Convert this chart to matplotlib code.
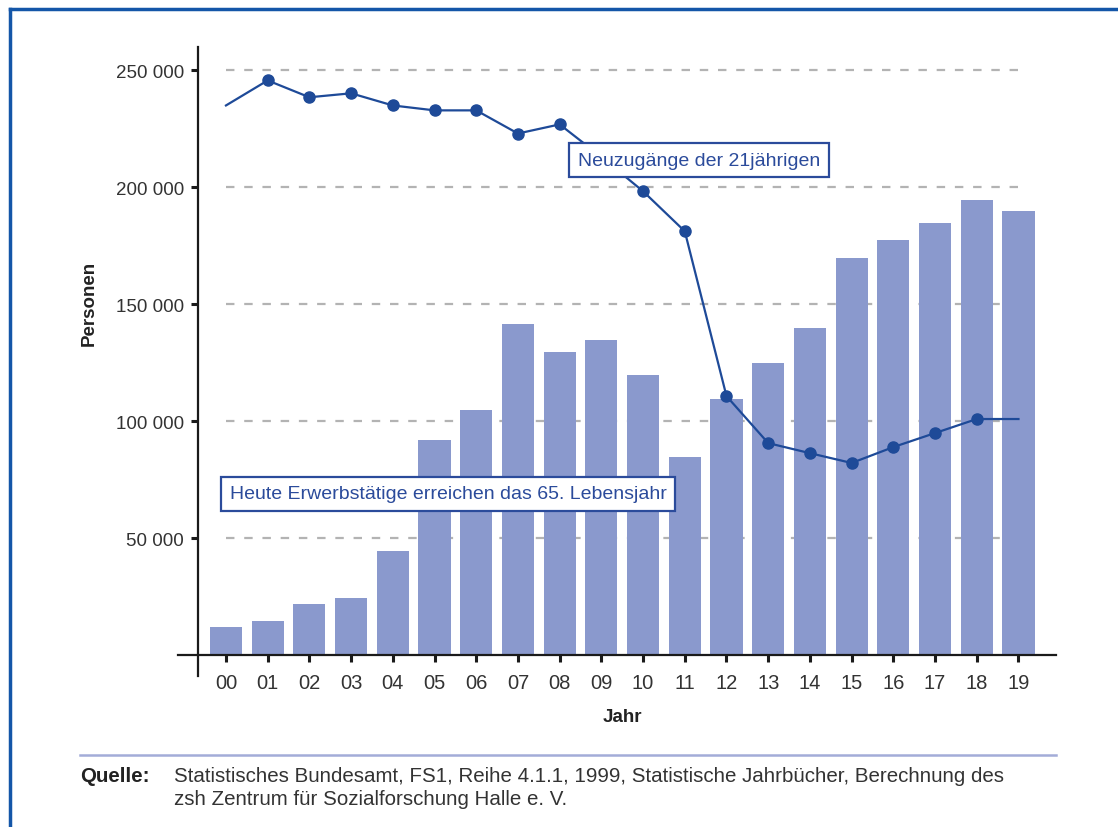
import matplotlib.pyplot as plt
from matplotlib.lines import Line2D
from matplotlib.ticker import FuncFormatter

plt.rcParams['font.family'] = ['Liberation Sans', 'DejaVu Sans']

# --- Data ---
jahre = ["00", "01", "02", "03", "04", "05", "06", "07", "08", "09",
         "10", "11", "12", "13", "14", "15", "16", "17", "18", "19"]
# Heute Erwerbstaetige erreichen das 65. Lebensjahr (bars)
rentner = [12000, 14500, 22000, 24400, 44400, 91900, 104700, 141500, 129500, 134600,
           119700, 84600, 109400, 124800, 139700, 169700, 177400, 184600, 194400, 189700]
# Neuzugaenge der 21jaehrigen (line)
neuzugaenge = [235000, 245700, 238500, 240200, 235000, 232900, 232900, 223000, 226900, 213000,
               198300, 181200, 110700, 90600, 86300, 82100, 88900, 94900, 100900, 100900]

bar_color = "#8a99cd"
line_color = "#1e4a98"
text_blue = "#2b4b9b"

fig = plt.figure(figsize=(11.18, 8.28), dpi=100)
ax = fig.add_axes([178 / 1118, 151 / 828, 878 / 1118, 629 / 828])

x = list(range(len(jahre)))

# grid lines behind the bars
for v in [50000, 100000, 150000, 200000, 250000]:
    ax.plot([0, len(jahre) - 1], [v, v], color="#b3b3b3", lw=1.6,
            dashes=(3.8, 4.4), zorder=0)

ax.bar(x, rentner, width=0.77, color=bar_color, zorder=2)
ax.plot(x, neuzugaenge, color=line_color, lw=1.6, zorder=3)
ax.plot(x[1:-1], neuzugaenge[1:-1], "o", color=line_color, ms=8, zorder=4)

ax.set_xlim(-1.15, 19.9)
ax.set_ylim(-9000, 260000)

for s in ["top", "right"]:
    ax.spines[s].set_visible(False)
ax.spines["left"].set_position(("data", -0.67))
ax.spines["bottom"].set_position(("data", 0))
ax.spines["left"].set_linewidth(1.6)
ax.spines["bottom"].set_linewidth(1.6)
ax.spines["left"].set_color("#1a1a1a")
ax.spines["bottom"].set_color("#1a1a1a")

ax.set_xticks(x)
ax.set_xticklabels(jahre)
ax.set_yticks([50000, 100000, 150000, 200000, 250000])
ax.yaxis.set_major_formatter(FuncFormatter(lambda v, p: f"{int(v):,}".replace(",", " ")))
ax.tick_params(axis="both", direction="out", length=5, width=2.2, color="#1a1a1a",
               labelsize=13.5, labelcolor="#333333")
ax.tick_params(axis="x", pad=8, labelsize=14.5)
ax.tick_params(axis="y", pad=5)

fig.text(622 / 1118, 1 - 718 / 828, "Jahr", fontsize=13.5, fontweight="bold",
         ha="center", va="center", color="#222222")
fig.text(89 / 1118, 1 - 303 / 828, "Personen", fontsize=13.5, fontweight="bold",
         ha="center", va="center", rotation=90, color="#222222")

# series labels
box = dict(boxstyle="square,pad=0.45", facecolor="white", edgecolor=text_blue, lw=1.6)
fig.text(699 / 1118, 1 - 161 / 828, "Neuzugänge der 21jährigen", fontsize=14,
         color=text_blue, ha="center", va="center", bbox=box, zorder=10)
fig.text(448 / 1118, 1 - 495 / 828, "Heute Erwerbstätige erreichen das 65. Lebensjahr",
         fontsize=14, color=text_blue, ha="center", va="center", bbox=box, zorder=10)

# separator and source
fig.add_artist(Line2D([80 / 1118, 1056 / 1118], [1 - 756 / 828, 1 - 756 / 828],
                      color="#a3acd8", lw=1.8))
fig.text(80 / 1118, 1 - 777 / 828, "Quelle:", fontsize=14.8, fontweight="bold",
         ha="left", va="center", color="#222222")
fig.text(174 / 1118, 1 - 777 / 828,
         "Statistisches Bundesamt, FS1, Reihe 4.1.1, 1999, Statistische Jahrbücher, Berechnung des",
         fontsize=14.8, ha="left", va="center", color="#333333")
fig.text(174 / 1118, 1 - 800 / 828, "zsh Zentrum für Sozialforschung Halle e. V.",
         fontsize=14.8, ha="left", va="center", color="#333333")

# blue frame (left and top)
fig.add_artist(Line2D([10 / 1118, 10 / 1118], [0, 1 - 10 / 828], color="#1456a8", lw=2.5))
fig.add_artist(Line2D([10 / 1118, 1], [1 - 10 / 828, 1 - 10 / 828], color="#1456a8", lw=2.5))

fig.savefig("out.png", dpi=100)
